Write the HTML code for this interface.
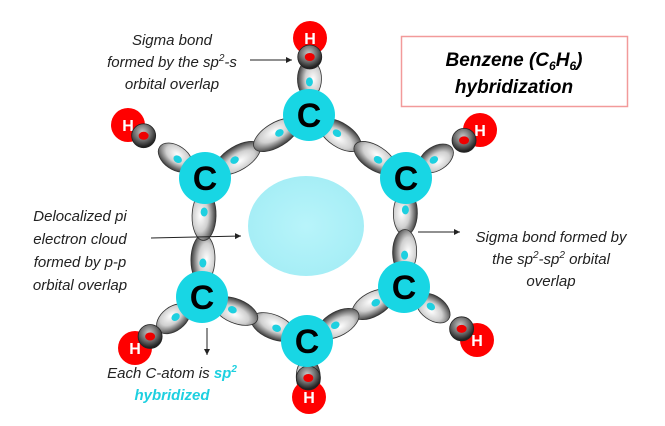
<!DOCTYPE html>
<html><head><meta charset="utf-8"><style>
html,body{margin:0;padding:0;background:#fff;}
svg{display:block;font-family:"Liberation Sans",sans-serif;}
.t{font-style:italic;font-size:15px;fill:#222;}
</style></head><body>
<svg id="s" width="665" height="426" viewBox="0 0 665 426" xmlns="http://www.w3.org/2000/svg">
<defs>
<radialGradient id="lobe" cx="50%" cy="35%" r="65%">
<stop offset="0" stop-color="#ffffff"/><stop offset="0.5" stop-color="#d0d0d0"/><stop offset="1" stop-color="#3a3a3a"/></radialGradient>
<radialGradient id="hs" cx="45%" cy="35%" r="60%">
<stop offset="0" stop-color="#c8c8c8"/><stop offset="0.6" stop-color="#6a6a6a"/><stop offset="1" stop-color="#222"/></radialGradient>
<radialGradient id="cl" cx="50%" cy="50%" r="50%">
<stop offset="0" stop-color="#b8f4fa"/><stop offset="1" stop-color="#a6eef6"/></radialGradient>
<marker id="ar" markerWidth="8" markerHeight="8" refX="6" refY="3" orient="auto"><path d="M0,0 L6,3 L0,6 z" fill="#222"/></marker>
</defs>
<rect x="401.5" y="36.5" width="226" height="70" fill="#fff" stroke="#f29a9a" stroke-width="1.5"/>
<text x="514" y="66" text-anchor="middle" font-size="19" font-weight="bold" font-style="italic">Benzene (C<tspan font-size="12" dy="4">6</tspan><tspan dy="-4">H</tspan><tspan font-size="12" dy="4">6</tspan><tspan dy="-4">)</tspan></text>
<text x="514" y="93" text-anchor="middle" font-size="19" font-weight="bold" font-style="italic">hybridization</text>
<ellipse cx="306" cy="226" rx="58" ry="50" fill="url(#cl)"/>
<g id="bonds"></g>
<g id="atoms"></g>
<text class="t" text-anchor="middle" x="172" y="45">Sigma bond</text>
<text class="t" text-anchor="middle" x="172" y="67">formed by the sp<tspan font-size="10" dy="-6">2</tspan><tspan dy="6">-s</tspan></text>
<text class="t" text-anchor="middle" x="172" y="89">orbital overlap</text>
<line x1="250" y1="60" x2="292" y2="60" stroke="#222" marker-end="url(#ar)"/>
<text class="t" text-anchor="middle" x="80" y="221">Delocalized pi</text>
<text class="t" text-anchor="middle" x="80" y="244">electron cloud</text>
<text class="t" text-anchor="middle" x="80" y="267">formed by p-p</text>
<text class="t" text-anchor="middle" x="80" y="290">orbital overlap</text>
<line x1="151" y1="238" x2="241" y2="236" stroke="#222" marker-end="url(#ar)"/>
<text class="t" text-anchor="middle" x="551" y="242">Sigma bond formed by</text>
<text class="t" text-anchor="middle" x="551" y="264">the sp<tspan font-size="10" dy="-6">2</tspan><tspan dy="6">-sp</tspan><tspan font-size="10" dy="-6">2</tspan><tspan dy="6"> orbital</tspan></text>
<text class="t" text-anchor="middle" x="551" y="286">overlap</text>
<line x1="418" y1="232" x2="460" y2="232" stroke="#222" marker-end="url(#ar)"/>
<line x1="207" y1="328" x2="207" y2="355" stroke="#222" marker-end="url(#ar)"/>
<text class="t" text-anchor="middle" x="172" y="378">Each C-atom is <tspan fill="#1ed0e0" font-weight="bold">sp<tspan font-size="10" dy="-6">2</tspan></tspan></text>
<text class="t" text-anchor="middle" x="172" y="400" fill="#1ed0e0" font-weight="bold" style="fill:#1ed0e0">hybridized</text>
</svg>
<script>
var NS="http://www.w3.org/2000/svg";
function el(p,n,a){var e=document.createElementNS(NS,n);for(var k in a)e.setAttribute(k,a[k]);p.appendChild(e);return e;}
var B=document.getElementById("bonds"),A=document.getElementById("atoms");
var C=[[309,115],[406,178],[404,287],[307,341],[202,297],[205,178]];
var H=[[310,38],[480,130],[477,340],[309,397],[135,348],[128,125]];
function lobe(x,y,ang,rx,ry){
 var g=el(B,"g",{transform:"translate("+x+","+y+") rotate("+ang+")"});
 el(g,"ellipse",{cx:0,cy:0,rx:rx,ry:ry,fill:"url(#lobe)",stroke:"#333","stroke-width":0.8});
 el(g,"ellipse",{cx:rx*0.15,cy:0,rx:4.5,ry:3.5,fill:"#1ed0e0"});
}
for(var i=0;i<6;i++){
 var a=C[i],b=C[(i+1)%6];var dx=b[0]-a[0],dy=b[1]-a[1],d=Math.hypot(dx,dy),ux=dx/d,uy=dy/d;
 var ang=Math.atan2(dy,dx)*180/Math.PI;var L=(d-40)/2;
 lobe(a[0]+ux*(18+L/2),a[1]+uy*(18+L/2),ang+180,L/2+5,12);
 lobe(b[0]-ux*(18+L/2),b[1]-uy*(18+L/2),ang,L/2+5,12);
}
for(var i=0;i<6;i++){
 var a=C[i],h=H[i];var dx=h[0]-a[0],dy=h[1]-a[1],d=Math.hypot(dx,dy),ux=dx/d,uy=dy/d;
 var ang=Math.atan2(dy,dx)*180/Math.PI;
 lobe(a[0]+ux*36,a[1]+uy*36,ang+180,19,12);
}
for(var i=0;i<6;i++){
 var a=C[i],h=H[i];var dx=h[0]-a[0],dy=h[1]-a[1],d=Math.hypot(dx,dy),ux=dx/d,uy=dy/d;
 var sx=h[0]-ux*19,sy=h[1]-uy*19;
 el(A,"circle",{cx:h[0],cy:h[1],r:17,fill:"#f00"});
 el(A,"text",{x:h[0],y:h[1]+6,"text-anchor":"middle","font-size":"16","font-weight":"bold",fill:"#fff"}).textContent="H";
 el(A,"circle",{cx:sx,cy:sy,r:12,fill:"url(#hs)",stroke:"#222","stroke-width":0.8});
 el(A,"ellipse",{cx:sx,cy:sy,rx:5,ry:4,fill:"#e00"});
}
for(var i=0;i<6;i++){
 el(A,"circle",{cx:C[i][0],cy:C[i][1],r:26,fill:"#18d6e4"});
 el(A,"text",{x:C[i][0],y:C[i][1]+12,"text-anchor":"middle","font-size":"34","font-weight":"bold",fill:"#000"}).textContent="C";
}
</script>
</body></html>
